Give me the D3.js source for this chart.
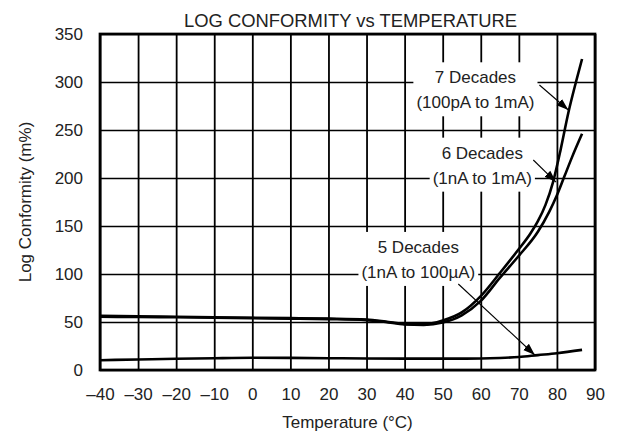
<!DOCTYPE html>
<html><head><meta charset="utf-8">
<script src="https://cdn.jsdelivr.net/npm/d3@7"></script>
<style>
body{margin:0;background:#fff}
text{font-family:"Liberation Sans",Arial,Helvetica,sans-serif;fill:#222}
</style>
</head><body>
<svg id="c" width="620" height="438"></svg>
<script>
// ---- data ----
const xTickValues = [-40,-30,-20,-10,0,10,20,30,40,50,60,70,80,90];
const xTickLabels = ["–40","–30","–20","–10","0","10","20","30","40","50","60","70","80","90"];
const yTickValues = [0,50,100,150,200,250,300,350];

const temp7 = [-40,-30,-20,-10,0,10,20,30,35,40,45,50,55,60,65,70,73,75,77,79,81,83,85,86.6];
const conf7 = [56.5,56,55.5,55,54.5,54,53.5,52.5,50.5,48,47.5,51.5,60,77,101,126,142,155,172,196,230,268,300,324];

const temp6 = [-40,-30,-20,-10,0,10,20,30,35,40,45,50,55,60,65,70,75,78,80,82,84,86.6];
const conf6 = [55.5,55.2,55,54.5,54,53.5,53,52,50,47.5,47,49.5,57,72,96,119,144,165,182,202,222,246];

const temp5 = [-40,-30,-20,-10,0,10,20,30,40,50,60,65,70,75,80,86.6];
const conf5 = [10.2,11,11.7,12.3,12.7,12.6,12.3,12,11.8,11.8,12,12.5,13.5,15.5,17.5,21];

const annoText = [["7 Decades","(100pA to 1mA)"],["6 Decades","(1nA to 1mA)"],["5 Decades","(1nA to 100µA)"]];
const annoAt   = [[58.6,292],[60.4,213.5],[43.6,115.3]];
const arrowFrom = [[75.4,296.9],[73.8,218.75],[54.1,89.6]];
const arrowTo   = [[83.0,270.8],[79.75,195.8],[74.2,15.6]];

// ---- layout ----
const W=620,H=438,m={top:34,right:25,bottom:68,left:100};
const pw=W-m.left-m.right, ph=H-m.top-m.bottom;
const FS=17;
const svg=d3.select("#c");
const x=d3.scaleLinear().domain([-40,90]).range([m.left,W-m.right]);
const y=d3.scaleLinear().domain([0,350]).range([H-m.bottom,m.top]);

// x axis + vertical grid
const gx=svg.append("g").attr("transform",`translate(0,${H-m.bottom})`)
  .call(d3.axisBottom(x).tickValues(xTickValues).tickFormat((d,i)=>xTickLabels[i]).tickSize(-ph).tickPadding(18));
gx.select(".domain").remove();
gx.selectAll("line").attr("stroke","#000").attr("stroke-width",1.8);
gx.selectAll("text").style("font-size",FS+"px").attr("fill","#222");

const gy=svg.append("g").attr("transform",`translate(${m.left},0)`)
  .call(d3.axisLeft(y).tickValues(yTickValues).tickSize(-pw).tickPadding(17));
gy.select(".domain").remove();
gy.selectAll("line").attr("stroke","#000").attr("stroke-width",1.3);
gy.selectAll("text").style("font-size",FS+"px").attr("fill","#222");

// border
svg.append("rect").attr("x",m.left).attr("y",m.top).attr("width",pw).attr("height",ph)
  .attr("fill","none").attr("stroke","#000").attr("stroke-width",2.7);

// annotation backgrounds + text
const annoG=svg.append("g");
annoText.forEach((lines,i)=>{
  const cx=x(annoAt[i][0]), cy=y(annoAt[i][1]);
  const g=annoG.append("g");
  const bg=g.append("rect").attr("fill","#fff");
  const t=g.append("text").attr("text-anchor","middle").style("font-size",FS+"px");
  lines.forEach((s,j)=>{
    t.append("tspan").attr("x",cx).attr("y",cy+(j-0.5)*25+FS*0.36).text(s);
  });
  const b=t.node().getBBox();
  bg.attr("x",b.x-3).attr("y",b.y-6).attr("width",b.width+6).attr("height",b.height+10);
});

// curves
const line=d3.line().x(d=>x(d[0])).y(d=>y(d[1])).curve(d3.curveMonotoneX);
[[temp5,conf5],[temp6,conf6],[temp7,conf7]].forEach(([t,v])=>{
  svg.append("path").datum(t.map((d,i)=>[d,v[i]])).attr("d",line)
    .attr("fill","none").attr("stroke","#000").attr("stroke-width",2.6);
});

// arrows
svg.append("defs").append("marker").attr("id","ah").attr("viewBox","0 0 10 10")
  .attr("refX",10).attr("refY",5).attr("markerWidth",12).attr("markerHeight",12)
  .attr("markerUnits","userSpaceOnUse").attr("orient","auto")
  .append("path").attr("d","M0,1.5 L10,5 L0,8.5 Z").attr("fill","#000");
arrowFrom.forEach((f,i)=>{
  svg.append("line").attr("x1",x(f[0])).attr("y1",y(f[1]))
    .attr("x2",x(arrowTo[i][0])).attr("y2",y(arrowTo[i][1]))
    .attr("stroke","#000").attr("stroke-width",1.1).attr("marker-end","url(#ah)");
});

// titles
svg.append("text").attr("x",m.left+pw/2+3).attr("y",27).attr("text-anchor","middle")
  .style("font-size","18.4px").text("LOG CONFORMITY vs TEMPERATURE");
svg.append("text").attr("x",m.left+pw/2).attr("y",428).attr("text-anchor","middle")
  .style("font-size",FS+"px").text("Temperature (°C)");
svg.append("text").attr("transform",`translate(31,${m.top+ph/2}) rotate(-90)`).attr("text-anchor","middle")
  .style("font-size",FS+"px").text("Log Conformity (m%)");
</script>
</body></html>
